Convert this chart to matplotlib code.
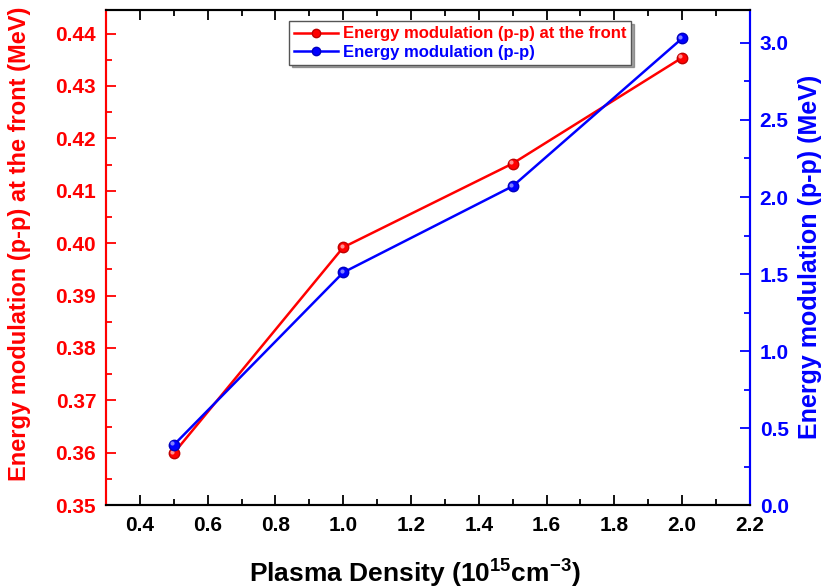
import matplotlib
matplotlib.use("Agg")
import matplotlib.pyplot as plt
from matplotlib.ticker import MultipleLocator, FormatStrFormatter
from matplotlib.transforms import offset_copy

plt.rcParams['font.family'] = ['Liberation Sans', 'DejaVu Sans']
plt.rcParams['font.weight'] = 'bold'
plt.rcParams['mathtext.fontset'] = 'custom'
plt.rcParams['mathtext.bf'] = 'Liberation Sans:bold'
plt.rcParams['mathtext.rm'] = 'Liberation Sans:bold'

density = [0.5, 1.0, 1.5, 2.0]
front_mod = [0.3599, 0.3992, 0.4152, 0.4354]
pp_mod = [0.39, 1.51, 2.07, 3.03]

fig = plt.figure(figsize=(8.24, 5.88), dpi=100)
ax = fig.add_axes([0.1286, 0.141, 0.7815, 0.842])
ax2 = ax.twinx()

l1, = ax.plot(density, front_mod, color='red', lw=1.8, marker='o', ms=7.5,
              markeredgecolor='#c00000', markerfacecolor='red', label='Energy modulation (p-p) at the front')
l2, = ax2.plot(density, pp_mod, color='blue', lw=1.8, marker='o', ms=7.5,
               markeredgecolor='#0000c0', markerfacecolor='blue', label='Energy modulation (p-p)')
# sphere-like highlights
ax.plot(density, front_mod, ls='none', marker='o', ms=3, mec='none', mfc='#ff9090',
        transform=offset_copy(ax.transData, fig=fig, x=-1.2, y=1.2, units='points'))
ax2.plot(density, pp_mod, ls='none', marker='o', ms=3, mec='none', mfc='#8080ff',
         transform=offset_copy(ax2.transData, fig=fig, x=-1.2, y=1.2, units='points'))

ax.set_xlim(0.3, 2.2)
ax.set_ylim(0.35, 0.4445)
ax2.set_ylim(0.0, 3.214)

ax.xaxis.set_major_locator(MultipleLocator(0.2))
ax.xaxis.set_minor_locator(MultipleLocator(0.1))
ax.xaxis.set_major_formatter(FormatStrFormatter('%.1f'))
ax.yaxis.set_major_locator(MultipleLocator(0.01))
ax.yaxis.set_minor_locator(MultipleLocator(0.005))
ax.yaxis.set_major_formatter(FormatStrFormatter('%.2f'))
ax2.yaxis.set_major_locator(MultipleLocator(0.5))
ax2.yaxis.set_minor_locator(MultipleLocator(0.25))
ax2.yaxis.set_major_formatter(FormatStrFormatter('%.1f'))

ax.tick_params(axis='x', which='both', direction='in', top=True, colors='black', labelsize=15, pad=8)
ax.tick_params(axis='x', which='major', length=7, width=1.3)
ax.tick_params(axis='x', which='minor', length=4, width=1.3)
ax.tick_params(axis='y', which='both', direction='in', colors='red', labelsize=15, pad=7)
ax.tick_params(axis='y', which='major', length=7, width=1.3)
ax.tick_params(axis='y', which='minor', length=4, width=1.3)
ax2.tick_params(axis='y', which='both', direction='in', colors='blue', labelsize=15, pad=7)
ax2.tick_params(axis='y', which='major', length=7, width=1.3)
ax2.tick_params(axis='y', which='minor', length=4, width=1.3)

for a in (ax, ax2):
    for s in a.spines.values():
        s.set_linewidth(1.5)
ax2.spines['left'].set_color('red')
ax2.spines['right'].set_color('blue')
ax2.spines['top'].set_color('black')
ax2.spines['bottom'].set_color('black')
ax.spines['left'].set_color('red')
ax.spines['right'].set_color('blue')

for lab in ax.get_xticklabels() + ax.get_yticklabels() + ax2.get_yticklabels():
    lab.set_fontweight('bold')

ax.set_xlabel('Plasma Density (10$^{\\mathbf{15}}$cm$^{\\mathbf{-3}}$)', fontsize=19, fontweight='bold')
ax.xaxis.set_label_coords(0.48, -0.103)
ax.set_ylabel('Energy modulation (p-p) at the front (MeV)', fontsize=17, fontweight='bold', color='red')
ax.yaxis.set_label_coords(-0.117, 0.527)
ax2.set_ylabel('Energy modulation (p-p) (MeV)', fontsize=18, fontweight='bold', color='blue')
ax2.yaxis.set_label_coords(1.075, 0.501)

leg = ax.legend(handles=[l1, l2], loc='upper left', bbox_to_anchor=(0.285, 0.977), fontsize=12,
                frameon=True, fancybox=False, shadow=True, borderpad=0.3, handlelength=2.6,
                handletextpad=0.3, labelspacing=0.2, borderaxespad=0, markerscale=0.8)
leg.get_frame().set_edgecolor('#555555')
leg.get_frame().set_linewidth(1.0)
for t, c in zip(leg.get_texts(), ['red', 'blue']):
    t.set_color(c)
    t.set_fontweight('bold')

fig.savefig('out.png', dpi=100)
